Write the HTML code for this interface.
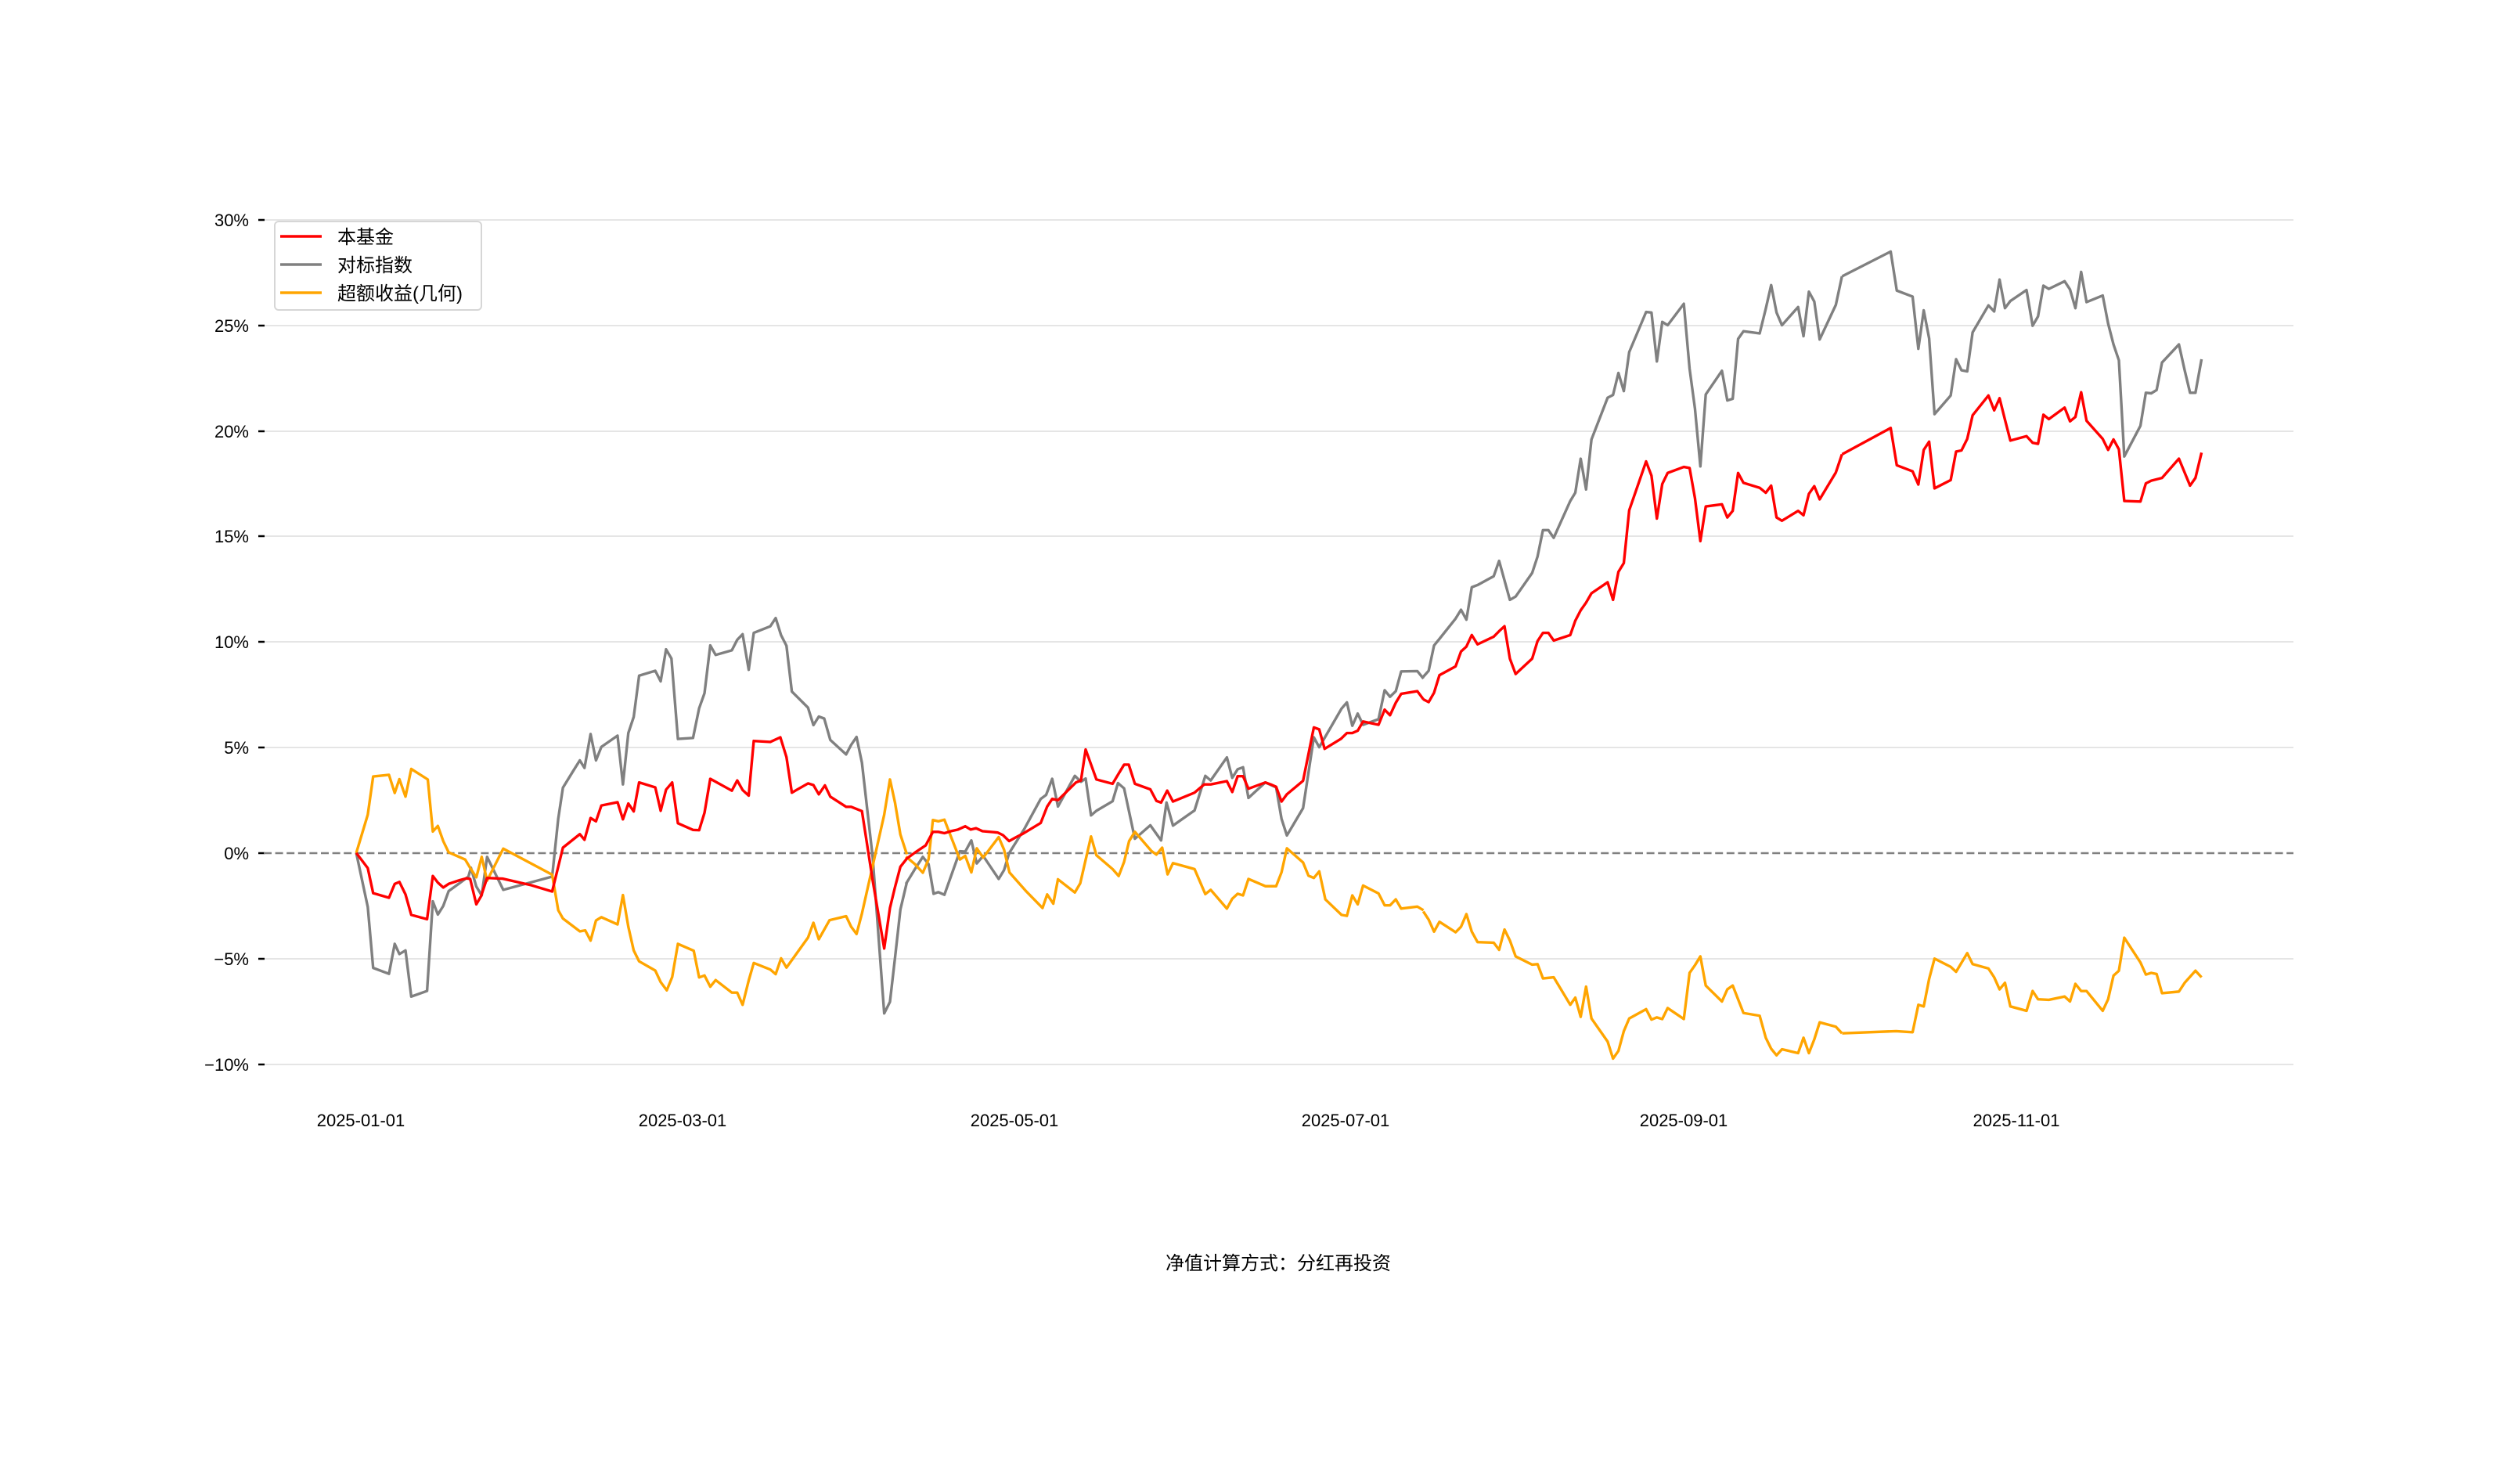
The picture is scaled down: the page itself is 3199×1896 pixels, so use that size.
<!DOCTYPE html>
<html><head><meta charset="utf-8"><style>
html,body{margin:0;padding:0;background:#fff;}
svg{display:block;}
text{font-family:"Liberation Sans","WenQuanYi Zen Hei","Noto Sans CJK SC",sans-serif;fill:#000;}
.l{fill:none;stroke-width:3.4;stroke-linejoin:round;vector-effect:non-scaling-stroke;}
</style></head><body>
<svg width="3199" height="1896" viewBox="0 0 3199 1896" xmlns="http://www.w3.org/2000/svg">
<rect width="3199" height="1896" fill="#fff"/>
<g stroke="#e5e5e5" stroke-width="2">
<line x1="337" y1="281" x2="2930" y2="281"/>
<line x1="337" y1="416" x2="2930" y2="416"/>
<line x1="337" y1="551" x2="2930" y2="551"/>
<line x1="337" y1="685" x2="2930" y2="685"/>
<line x1="337" y1="820" x2="2930" y2="820"/>
<line x1="337" y1="955" x2="2930" y2="955"/>
<line x1="337" y1="1225" x2="2930" y2="1225"/>
<line x1="337" y1="1360" x2="2930" y2="1360"/>
</g>
<g stroke="#000" stroke-width="2.5">
<line x1="330" y1="281" x2="338" y2="281"/><line x1="330" y1="416" x2="338" y2="416"/>
<line x1="330" y1="551" x2="338" y2="551"/><line x1="330" y1="685" x2="338" y2="685"/>
<line x1="330" y1="820" x2="338" y2="820"/><line x1="330" y1="955" x2="338" y2="955"/>
<line x1="330" y1="1090" x2="338" y2="1090"/><line x1="330" y1="1225" x2="338" y2="1225"/>
<line x1="330" y1="1360" x2="338" y2="1360"/>
</g>
<line x1="337" y1="1090" x2="2930" y2="1090" stroke="#808080" stroke-width="2.5" stroke-dasharray="10,4.6"/>
<g font-size="22" text-anchor="end">
<text x="318" y="289">30%</text><text x="318" y="424">25%</text><text x="318" y="559">20%</text>
<text x="318" y="693">15%</text><text x="318" y="828">10%</text><text x="318" y="963">5%</text>
<text x="318" y="1098">0%</text><text x="318" y="1233">−5%</text><text x="318" y="1368">−10%</text>
</g>
<g font-size="22" text-anchor="middle">
<text x="461" y="1439">2025-01-01</text><text x="872" y="1439">2025-03-01</text>
<text x="1296" y="1439">2025-05-01</text><text x="1719" y="1439">2025-07-01</text>
<text x="2151" y="1439">2025-09-01</text><text x="2576" y="1439">2025-11-01</text>
</g>
<text x="1633" y="1622" font-size="24" text-anchor="middle">净值计算方式：分红再投资</text>

<!-- Segment Z6 -->
<g transform="translate(440,700) scale(0.45914,0.42088)">
<polyline class="l" stroke="#808080" points="33,926 65,1090 80,1275 124,1293 140,1202 153,1233 170,1222 186,1362 230,1345 246,1073 260,1113 275,1087 290,1042 320,1018 345,998 352,971 367,1028 382,1055 397,938 442,1038 578,998 595,822 608,728 635,680 655,645 668,668 685,565 700,645 715,604 760,570 775,718 790,562 805,513 820,388 865,373 880,405 895,308 910,336 928,580 970,577 987,487 1002,441 1018,296 1033,325 1078,311 1093,279 1108,262 1125,370 1139,258 1185,238 1200,213 1215,265 1230,297 1245,436 1290,485 1305,538 1320,512 1335,518 1352,583 1396,627 1410,598 1425,574 1440,652 1470,940 1502,1413 1518,1378 1532,1245 1547,1098 1565,1015"/>
<polyline class="l" stroke="#ffa500" points="33,926 65,810 80,694 124,689 140,744 153,702 170,755 186,671 232,703 246,861 260,844 275,890 290,924 336,946 352,975 367,1000 382,938 397,1010 442,913 578,992 595,1100 608,1125 655,1164 670,1161 685,1192 700,1131 715,1121 760,1143 775,1054 790,1150 805,1222 820,1255 865,1283 880,1318 897,1343 912,1303 928,1202 972,1223 987,1304 1002,1298 1018,1332 1033,1312 1078,1350 1093,1350 1108,1387 1125,1313 1139,1260 1185,1280 1200,1294 1215,1246 1230,1274 1290,1183 1305,1138 1320,1188 1350,1130 1396,1118 1410,1150 1425,1172 1440,1110 1470,965 1502,810 1518,703 1532,773 1547,870 1565,930"/>
<polyline class="l" stroke="#ff0000" points="33,926 65,972 80,1048 124,1062 140,1020 153,1014 170,1052 186,1114 230,1127 246,996 260,1016 275,1031 290,1020 320,1009 340,1003 350,1005 367,1082 380,1058 397,1002 440,1004 520,1024 578,1043 608,910 655,869 668,886 685,820 700,830 715,782 760,772 775,824 790,776 805,800 820,712 865,727 880,798 895,734 912,712 928,836 970,856 987,857 1002,804 1018,701 1078,737 1093,706 1108,735 1125,752 1139,586 1185,589 1213,575 1230,635 1245,743 1290,715 1305,720 1320,748 1337,721 1352,755 1396,786 1410,786 1440,799 1470,1010 1502,1216 1518,1093 1532,1030 1547,968 1565,943"/>
</g>
<!-- Segment Z7 -->
<g transform="translate(1100,700) scale(0.45914,0.42088)">
<polyline class="l" stroke="#808080" points="125,1020 150,975 172,938 188,960 202,1050 215,1045 232,1053 275,921 290,922 307,888 322,958 340,935 383,1005 398,978 412,927 455,852 500,762 515,750 532,701 548,785 595,692 612,710 625,700 640,812 655,798 700,769 715,714 732,730 762,883 805,842 835,888 850,773 868,843 928,797 958,692 973,706 1018,636 1033,698 1048,672 1063,666 1078,759 1125,712 1155,727 1170,822 1185,873 1230,790 1260,575 1275,605 1292,573 1337,488 1352,469 1367,540 1382,503 1397,537 1440,520 1457,432 1472,452 1488,435 1503,375 1548,374 1565,397"/>
<polyline class="l" stroke="#ffa500" points="125,937 150,960 172,986 188,945 200,826 215,830 232,825 275,946 290,935 307,985 322,912 340,940 383,878 398,916 413,985 460,1043 505,1093 518,1052 535,1080 548,1006 595,1046 610,1018 640,876 655,933 700,975 717,996 732,953 746,890 762,862 808,920 822,931 838,910 853,991 868,957 928,975 945,1018 958,1051 973,1038 1018,1095 1033,1065 1048,1050 1063,1055 1078,1005 1125,1027 1155,1027 1170,985 1185,912 1230,955 1245,995 1260,1002 1275,982 1292,1067 1337,1114 1352,1117 1367,1055 1382,1082 1397,1025 1440,1049 1457,1085 1472,1085 1488,1067 1503,1095 1548,1089 1565,1100"/>
<polyline class="l" stroke="#ff0000" points="125,945 150,925 180,903 200,862 215,862 232,866 250,860 270,855 290,845 305,855 320,851 338,860 380,864 395,872 412,890 432,878 450,868 500,835 518,785 532,762 548,766 598,712 612,706 625,612 655,703 700,716 718,683 732,658 745,658 762,716 805,733 822,768 835,773 852,737 868,770 928,743 955,718 973,718 1018,708 1033,741 1048,693 1063,693 1078,731 1125,712 1140,718 1155,725 1170,770 1185,748 1230,707 1260,545 1275,551 1290,610 1335,580 1352,562 1367,562 1382,555 1397,527 1440,537 1457,491 1472,508 1488,470 1503,443 1548,435 1565,460"/>
</g>
<!-- Segment Z8 -->
<g transform="translate(1760,280) scale(0.45914,0.70190)">
<polyline class="l" stroke="#808080" points="127,833 142,822 157,776 172,764 217,727 232,711 247,729 262,670 278,666 323,650 338,622 368,693 384,687 430,644 445,614 460,566 475,566 490,580 536,513 550,498 565,436 580,492 595,401 640,325 655,320 670,280 685,313 700,242 747,169 762,170 777,259 792,187 807,193 852,154 868,272 883,345 898,450 913,319 958,276 973,330 988,327 1003,218 1018,204 1063,208 1080,163 1095,120 1110,170 1125,193 1170,160 1185,213 1200,132 1215,150 1230,219 1275,156 1292,104"/>
<polyline class="l" stroke="#ffa500" points="127,1260 142,1275 157,1297 172,1279 217,1298 232,1288 247,1265 262,1297 278,1316 323,1317 338,1330 353,1293 368,1313 384,1342 430,1357 445,1356 460,1382 490,1380 536,1430 550,1417 565,1452 580,1397 595,1455 640,1497 655,1528 670,1514 685,1478 700,1455 747,1438 762,1457 777,1453 792,1456 807,1436 852,1456 868,1372 883,1358 898,1342 913,1395 958,1424 973,1402 988,1395 1003,1420 1018,1445 1063,1450 1080,1490 1095,1510 1110,1522 1125,1511 1170,1518 1185,1490 1200,1518 1215,1493 1230,1462 1275,1470 1292,1482"/>
<polyline class="l" stroke="#ff0000" points="127,874 142,879 157,862 172,830 217,814 232,787 247,778 262,757 278,774 323,760 338,750 353,741 368,800 384,828 430,800 445,768 460,753 475,753 490,767 536,757 550,731 565,712 580,698 595,681 640,661 655,693 670,642 685,626 700,530 747,441 762,467 777,545 792,482 807,462 852,451 868,453 883,508 898,586 913,523 958,519 973,543 988,531 1003,462 1018,480 1063,489 1080,498 1095,485 1110,543 1125,549 1170,531 1185,539 1200,500 1215,486 1230,510 1275,461 1292,428"/>
</g>
<!-- Segment Z9 -->
<g transform="translate(2280,280) scale(0.45914,0.70190)">
<polyline class="l" stroke="#808080" points="160,104 295,59 312,130 356,141 372,236 387,166 402,217 417,355 462,321 477,255 492,275 508,277 523,206 567,157 583,168 598,110 613,162 628,149 673,129 690,194 705,177 720,121 735,127 779,113 794,128 809,162 825,96 840,151 885,139 900,190 915,228 930,257 945,432 990,376 1005,316 1020,317 1035,311 1050,261 1097,228 1113,275 1128,316 1143,316 1160,255"/>
<polyline class="l" stroke="#ffa500" points="160,1482 310,1478 356,1480 372,1430 387,1433 402,1383 417,1346 462,1361 477,1370 508,1336 523,1356 567,1364 583,1380 598,1402 613,1390 628,1433 673,1441 690,1405 705,1420 735,1421 779,1415 794,1424 809,1392 825,1405 840,1405 885,1441 900,1420 915,1377 930,1368 945,1308 990,1353 1005,1375 1020,1372 1035,1374 1050,1409 1097,1406 1113,1390 1143,1368 1160,1380"/>
<polyline class="l" stroke="#ff0000" points="160,428 295,380 312,448 356,459 372,483 387,420 402,405 417,490 462,475 477,423 492,421 508,400 523,357 567,321 583,348 598,326 613,365 628,403 673,395 690,407 705,409 720,356 735,364 779,343 794,368 809,360 825,315 840,367 885,400 900,420 915,401 930,419 945,513 990,514 1005,481 1020,476 1050,471 1097,436 1128,485 1143,471 1160,425"/>
</g>

<!-- Legend -->
<rect x="351" y="283" width="264" height="113" rx="5" ry="5" fill="#fff" fill-opacity="0.85" stroke="#d6d6d6" stroke-width="2"/>
<line x1="358" y1="302" x2="411" y2="302" stroke="#ff0000" stroke-width="3.4"/>
<line x1="358" y1="338" x2="411" y2="338" stroke="#808080" stroke-width="3.4"/>
<line x1="358" y1="374" x2="411" y2="374" stroke="#ffa500" stroke-width="3.4"/>
<g font-size="24">
<text x="431" y="311">本基金</text>
<text x="431" y="347">对标指数</text>
<text x="431" y="383">超额收益(几何)</text>
</g>
</svg>
</body></html>
